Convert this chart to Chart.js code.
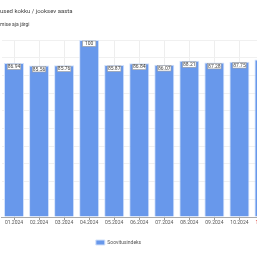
<!DOCTYPE html>
<html>
<head>
<meta charset="utf-8">
<script src="https://cdn.jsdelivr.net/npm/chart.js@4.4.1/dist/chart.umd.min.js"></script>
<style>
  html, body { margin:0; padding:0; background:#fff; overflow:hidden; }
  #wrap { position:relative; width:257px; height:257px; overflow:hidden; }
  #chart { position:absolute; left:-40px; top:0; }
  .ttl { position:absolute; left:0; font-family:Roboto, sans-serif; color:#444; white-space:nowrap; }
</style>
</head>
<body>
<div id="wrap">
  <canvas id="chart" width="332" height="257"></canvas>
  <div class="ttl" style="top:7px;font-size:6px">used kokku / jooksev aasta</div>
  <div class="ttl" style="top:21px;font-size:5px">mise aja järgi</div>
</div>
<script>
var months = ["01.2024","02.2024","03.2024","04.2024","05.2024","06.2024","07.2024","08.2024","09.2024","10.2024","11.2024"]
var index_values = [86.94, 85.56, 85.76, 100, 85.87, 86.84, 86.07, 88.21, 87.28, 87.75, 89.0]
var y_ticks = [0,10,20,30,40,50,60,70,80,90,100]
var series_name = "Soovitusindeks"

var padBottom = 2
var axisBottom = 217

// value boxes on top of each bar
var valueBoxes = {
    id: 'valueBoxes',
    afterDatasetsDraw: function(chart){
        var ctx = chart.ctx
        var meta = chart.getDatasetMeta(0)
        ctx.save()
        ctx.font = '5px Roboto'
        ctx.textAlign = 'center'
        ctx.textBaseline = 'middle'
        meta.data.forEach(function(bar, i){
            var txt = String(index_values[i])
            var w = 13.4, h = 5.4
            var x = bar.x - w/2, y = bar.y + 1
            ctx.fillStyle = '#fff'
            ctx.fillRect(x, y, w, h)
            ctx.strokeStyle = '#9a9a9a'
            ctx.lineWidth = 0.6
            ctx.strokeRect(x, y, w, h)
            ctx.fillStyle = '#444'
            ctx.fillText(txt, bar.x, y + h/2 + 0.2)
        })
        ctx.restore()
    }
}

var ctx = document.getElementById('chart').getContext('2d')
var chart = new Chart(ctx, {
    type: 'bar',
    data: {
        labels: months,
        datasets: [{
            label: series_name,
            data: index_values,
            backgroundColor: '#6898eb',
            borderColor: '#d3e2fb',
            borderWidth: 1,
            barPercentage: 0.8,
            categoryPercentage: 1
        }]
    },
    options: {
        responsive: false,
        animation: false,
        layout: { padding: { top: 40, left: 0, right: 15, bottom: padBottom } },
        plugins: {
            title: { display: false },
            tooltip: { enabled: false },
            legend: {
                position: 'bottom',
                labels: {
                    boxWidth: 9, boxHeight: 5,
                    color: '#555',
                    font: { family: 'Roboto', size: 5 },
                    padding: 6
                }
            }
        },
        scales: {
            x: {
                grid: { offset: false, color: '#eeeeee', tickLength: 3, tickColor: '#999' },
                border: { color: '#aaa' },
                ticks: {
                    color: function(c){ return c.index == months.length-1 ? '#d93025' : '#555' },
                    font: { family: 'Roboto', size: 5 },
                    maxRotation: 0, autoSkip: false, padding: 0
                },
                afterFit: function(s){
                    var lh = s.chart.legend ? s.chart.legend.height : 0
                    s.height = s.chart.height - padBottom - lh - axisBottom
                }
            },
            y: {
                min: 0, max: 100,
                afterBuildTicks: function(s){ s.ticks = y_ticks.map(function(v){ return {value:v} }) },
                afterFit: function(s){ s.width = 41.5 },
                ticks: { display: false },
                grid: { color: '#f0f0f0', drawTicks: false },
                border: { display: false }
            }
        }
    },
    plugins: [valueBoxes]
})
</script>
</body>
</html>
